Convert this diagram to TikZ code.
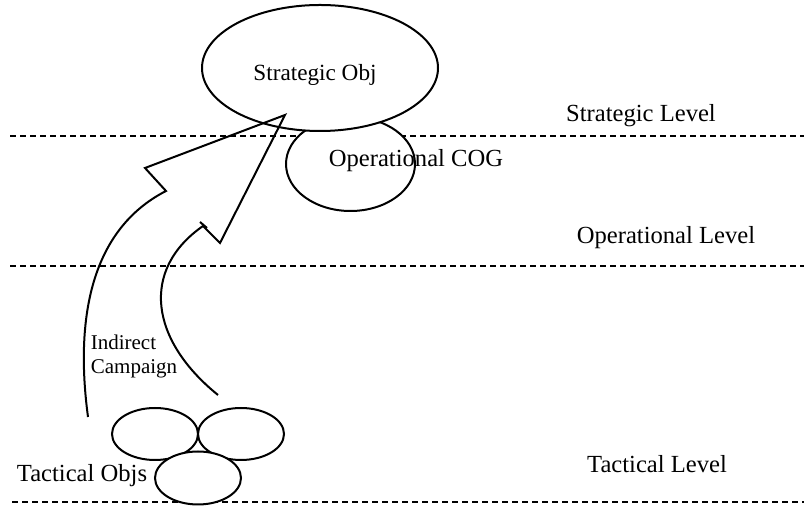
\documentclass[tikz,border=0pt]{standalone}
\usepackage{fontspec}
\setmainfont{Liberation Serif}
\usetikzlibrary{shapes.geometric}
\begin{document}
\begin{tikzpicture}[x=0.5pt,y=-0.5pt,line width=1pt,line join=miter]
  \tikzstyle{level}=[font=\fontsize{12.3}{14.8}\selectfont,inner sep=0pt]
  \tikzstyle{obj}=[ellipse,draw,fill=white,inner sep=0pt]
  \tikzstyle{divider}=[dash pattern=on 3pt off 2pt]
  \useasboundingbox (0,0) rectangle (804,506);
  % levels
  \draw[divider] (10,136) -- (804,136);
  \draw[divider] (10,266) -- (804,266);
  \draw[divider] (12,502) -- (804,502);
  \node[level] (L_s) at (641,116) {Strategic Level};
  \node[level] (L_o) at (666,238) {Operational Level};
  \node[level] (L_t) at (657,464) {Tactical Level};
  % objectives
  \node[obj,minimum width=64.5pt,minimum height=47pt] (E_o) at (350.5,164) {};
  \node[obj,minimum width=118pt,minimum height=63pt] (E_s) at (320,68) {};
  \node[level,font=\fontsize{11.6}{14}\selectfont] at (315,75) {Strategic Obj};
  \node[level] at (416,161) {Operational COG};
  \node[obj,minimum width=43pt,minimum height=26pt] (T_1) at (155,434) {};
  \node[obj,minimum width=43pt,minimum height=26pt] (T_2) at (241,434) {};
  \node[obj,minimum width=43pt,minimum height=26.5pt] (T_3) at (198,478) {};
  \node[level] at (82,476) {Tactical Objs};
  % campaign arrow
  \draw (88,417) .. controls (75,320) and (90,230) .. (166,191) -- (145,168)
        -- (285,115) -- (220,243) -- (203,226)
        .. controls (140,270) and (150,340) .. (218,395);
  \draw (200,222) -- (207,228);
  \node[level,font=\fontsize{10.5}{12}\selectfont,align=left] at (134,356) {Indirect\\Campaign};
\end{tikzpicture}
\end{document}
